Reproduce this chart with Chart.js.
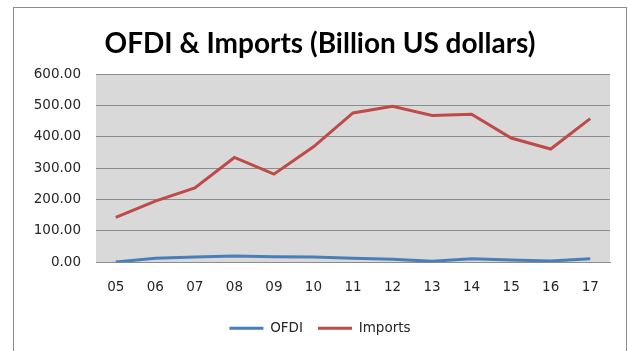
<!DOCTYPE html>
<html>
<head>
<meta charset="utf-8">
<script src="https://cdn.jsdelivr.net/npm/chart.js@4/dist/chart.umd.min.js"></script>
<style>
  html, body { margin: 0; padding: 0; background: #ffffff; }
  #wrap { position: absolute; left: 0; top: 0; width: 628px; height: 351px; }
</style>
</head>
<body>
<div id="wrap"><canvas id="chart" width="628" height="351"></canvas></div>
<script>
// Years 2005-2017, shown as two-digit labels
const years = ['05', '06', '07', '08', '09', '10', '11', '12', '13', '14', '15', '16', '17'];
// Outward FDI, billion US dollars
const ofdi = [1, 13, 17, 20, 18, 17, 13, 10, 3, 11, 7, 4, 11];
// Imports, billion US dollars
const imports = [143, 195, 237, 334, 281, 368, 476, 497, 468, 472, 396, 361, 458];
// Value axis
const yMin = 0, yMax = 600, yStep = 100;

const smallFont = { family: 'DejaVu Sans', size: 13.5 };

// White card with a thin grey frame, plus the grey plot background
const framePlugin = {
  id: 'frame',
  beforeDraw(chart) {
    const ctx = chart.ctx;
    const a = chart.chartArea;
    ctx.save();
    ctx.fillStyle = '#ffffff';
    ctx.fillRect(0, 0, chart.width, chart.height);
    ctx.strokeStyle = '#8c8c8c';
    ctx.lineWidth = 1;
    ctx.strokeRect(13.5, 7.5, 613, 360);
    ctx.fillStyle = '#d9d9d9';
    ctx.fillRect(a.left, a.top, a.right - a.left, a.bottom - a.top);
    ctx.restore();
  }
};

new Chart(document.getElementById('chart'), {
  type: 'line',
  data: {
    labels: years,
    datasets: [
      { label: 'OFDI', data: ofdi, borderColor: '#4a7ebb', backgroundColor: '#4a7ebb',
        borderWidth: 3, pointRadius: 0, tension: 0 },
      { label: 'Imports', data: imports, borderColor: '#be4b48', backgroundColor: '#be4b48',
        borderWidth: 3, pointRadius: 0, tension: 0 }
    ]
  },
  options: {
    responsive: false,
    animation: false,
    layout: { padding: { left: 30, right: 18, top: 0, bottom: 6 } },
    plugins: {
      title: {
        display: true,
        text: 'OFDI & Imports (Billion US dollars)',
        color: '#000000',
        font: { family: 'Lato', size: 28, weight: 'bold', lineHeight: 1.2 },
        padding: { top: 27, bottom: 13.4 }
      },
      legend: {
        position: 'bottom',
        labels: {
          color: '#262626',
          font: smallFont,
          boxWidth: 34,
          boxHeight: 3,
          padding: 15,
          generateLabels(chart) {
            return chart.data.datasets.map((ds, i) => ({
              text: ds.label,
              fillStyle: ds.borderColor,
              strokeStyle: ds.borderColor,
              lineWidth: 0,
              hidden: false,
              datasetIndex: i,
              fontColor: '#262626'
            }));
          }
        }
      },
      tooltip: { enabled: false }
    },
    scales: {
      x: {
        offset: true,
        afterFit(scale) { scale.height -= 6; },
        grid: { display: false, drawTicks: false },
        border: { display: true, color: '#8c8c8c', width: 1 },
        ticks: { color: '#262626', font: smallFont, padding: 17, maxRotation: 0 }
      },
      y: {
        min: yMin,
        max: yMax,
        afterFit(scale) { scale.width = 66; },
        grid: { color: '#8c8c8c', lineWidth: 1, drawTicks: false },
        border: { display: false },
        ticks: {
          stepSize: yStep,
          color: '#262626',
          font: smallFont,
          padding: 15,
          callback: v => v.toFixed(2)
        }
      }
    }
  },
  plugins: [framePlugin]
});
</script>
</body>
</html>
